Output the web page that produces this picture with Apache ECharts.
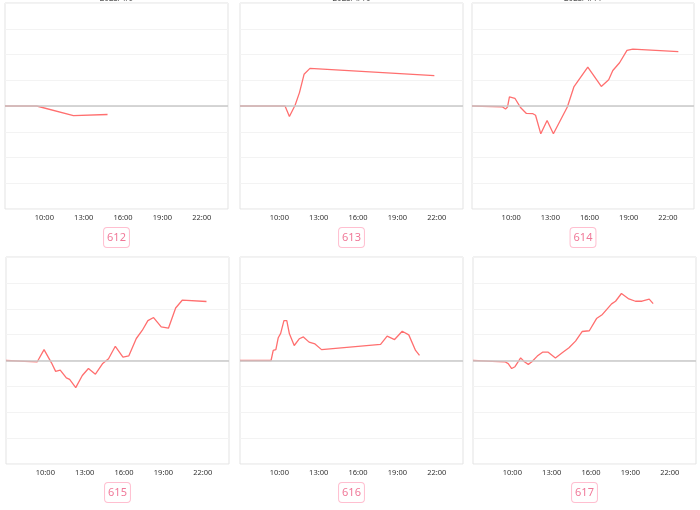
<!DOCTYPE html>
<html>
<head>
<meta charset="utf-8">
<script src="https://cdn.jsdelivr.net/npm/echarts@6/dist/echarts.min.js"></script>
<style>
html,body{margin:0;padding:0;background:#fff;}
#chart{width:700px;height:510px;}
</style>
</head>
<body>
<div id="chart"></div>
<script>
// ---- data ----
const panelNames = ['612', '613', '614', '615', '616', '617'];
const panelTitles = ['2023/4/9', '2023/4/10', '2023/4/11', '2023/4/12', '2023/4/13', '2023/4/14'];
const xTickLabels = ['10:00', '13:00', '16:00', '19:00', '22:00'];

const times612 = ['07:00', '09:25', '12:13', '14:49'];
const values612 = [0, 0, -0.37, -0.33];

const times613 = ['07:00', '10:26', '10:34', '10:46', '11:12', '11:32', '11:53', '12:20', '21:49'];
const values613 = [0, 0, -0.06, -0.41, 0.03, 0.52, 1.23, 1.46, 1.18];

const times614 = ['07:00', '09:19', '09:34', '09:43', '09:52', '10:17', '10:44', '11:10', '11:40', '11:52', '12:16', '12:45', '13:14', '14:18', '14:48', '15:52', '16:54', '17:28', '17:47', '18:18', '18:52', '19:19', '22:48'];
const values614 = [0, -0.03, -0.12, -0.04, 0.35, 0.30, -0.07, -0.29, -0.30, -0.36, -1.08, -0.56, -1.08, -0.04, 0.74, 1.51, 0.76, 1.02, 1.38, 1.68, 2.16, 2.21, 2.11];

const times615 = ['07:00', '09:23', '09:54', '10:28', '10:47', '11:08', '11:36', '11:51', '12:19', '12:49', '13:17', '13:49', '14:21', '14:49', '15:20', '15:55', '16:22', '16:56', '17:23', '17:49', '18:15', '18:50', '19:23', '19:56', '20:26', '22:17'];
const values615 = [0, -0.05, 0.42, -0.09, -0.42, -0.37, -0.67, -0.73, -1.05, -0.58, -0.31, -0.53, -0.13, 0.07, 0.55, 0.13, 0.18, 0.85, 1.16, 1.54, 1.66, 1.30, 1.25, 2.03, 2.33, 2.28];

const times616 = ['07:00', '09:22', '09:32', '09:44', '09:55', '10:06', '10:21', '10:34', '10:46', '11:08', '11:31', '11:50', '12:16', '12:43', '13:13', '17:43', '18:13', '18:47', '19:22', '19:52', '20:23', '20:41'];
const values616 = [0, 0, 0.39, 0.42, 0.88, 1.05, 1.54, 1.54, 1.03, 0.58, 0.84, 0.91, 0.71, 0.64, 0.42, 0.62, 0.94, 0.81, 1.13, 0.99, 0.39, 0.20];

const times617 = ['07:00', '09:26', '09:41', '09:57', '10:12', '10:38', '10:55', '11:13', '11:28', '11:54', '12:18', '12:44', '13:17', '13:48', '14:19', '14:49', '15:19', '15:52', '16:25', '16:52', '17:34', '17:52', '18:19', '18:53', '19:23', '19:53', '20:26', '20:44'];
const values617 = [0, -0.05, -0.12, -0.31, -0.24, 0.10, -0.05, -0.15, -0.06, 0.17, 0.32, 0.32, 0.10, 0.30, 0.49, 0.75, 1.12, 1.15, 1.62, 1.78, 2.19, 2.29, 2.59, 2.38, 2.29, 2.29, 2.37, 2.20];

const seriesTimes = [times612, times613, times614, times615, times616, times617];
const seriesValues = [values612, values613, values614, values615, values616, values617];

// ---- layout ----
const gridBoxes = [
  {left: 5, top: 3, width: 223, height: 206},
  {left: 240, top: 3, width: 223, height: 206},
  {left: 472, top: 3, width: 222, height: 206},
  {left: 6, top: 257, width: 223, height: 207},
  {left: 240, top: 257, width: 223, height: 207},
  {left: 473, top: 257, width: 223, height: 207}
];

function toHours(t) {
  const p = t.split(':');
  return Number(p[0]) + Number(p[1]) / 60;
}

const FONT = '"Noto Sans", "Open Sans", sans-serif';
const grids = [], xAxes = [], yAxes = [], series = [], graphics = [];

gridBoxes.forEach((g, i) => {
  grids.push({left: g.left, top: g.top, width: g.width, height: g.height,
    show: true, borderColor: '#e3e3e3', borderWidth: 1, backgroundColor: '#fff'});
  xAxes.push({
    type: 'value', gridIndex: i, min: 7, max: 24, interval: 1,
    axisLine: {show: false}, axisTick: {show: false}, splitLine: {show: false},
    axisLabel: {
      color: '#333', fontSize: 7.5, fontFamily: FONT, margin: 5,
      formatter: function (v) {
        const lbl = v + ':00';
        return xTickLabels.indexOf(lbl) >= 0 ? lbl : '';
      }
    }
  });
  yAxes.push({
    type: 'value', gridIndex: i, min: -4, max: 4, interval: 1,
    axisLine: {show: false}, axisTick: {show: false}, axisLabel: {show: false},
    splitLine: {show: true, lineStyle: {color: '#f3f3f3', width: 1}}
  });
  const data = seriesTimes[i].map((t, k) => [toHours(t), seriesValues[i][k]]);
  series.push({
    type: 'line', xAxisIndex: i, yAxisIndex: i, data: data,
    showSymbol: false, symbol: 'none', silent: true,
    lineStyle: {color: '#ff6f6f', width: 1.3},
    markLine: {
      silent: true, symbol: 'none', animation: false,
      label: {show: false},
      lineStyle: {color: '#c9c9c9', width: 1.5, type: 'solid'},
      data: [{yAxis: 0}]
    },
    z: 3
  });
  const cx = g.left + g.width / 2;
  // boxed panel label
  graphics.push({
    type: 'text', x: cx, y: g.top + g.height + 19,
    style: {
      text: panelNames[i], fill: '#f07898', font: '11px ' + FONT,
      align: 'center', verticalAlign: 'top',
      borderColor: '#ffbfd0', borderWidth: 1, borderRadius: 3,
      padding: [3, 3, 2, 3], lineHeight: 14, backgroundColor: '#fff'
    }
  });
  // clipped date title at the top of the first row
  if (i < 3) {
    graphics.push({
      type: 'text', x: cx, y: -5,
      style: {text: panelTitles[i], fill: '#555', font: '8px ' + FONT,
        align: 'center', verticalAlign: 'top'}
    });
  }
});

const chart = echarts.init(document.getElementById('chart'), null, {renderer: 'canvas'});
chart.setOption({
  animation: false,
  backgroundColor: '#fff',
  grid: grids,
  xAxis: xAxes,
  yAxis: yAxes,
  series: series,
  graphic: graphics
});
</script>
</body>
</html>
